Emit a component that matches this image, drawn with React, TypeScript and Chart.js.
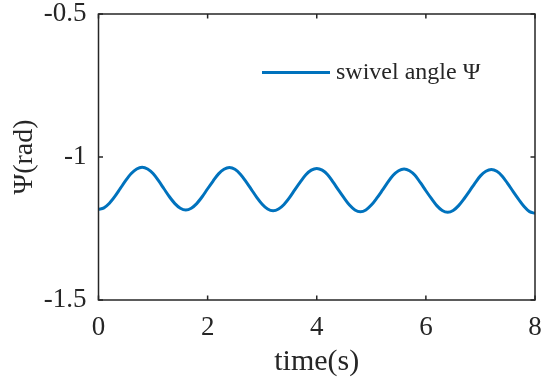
import { useEffect, useRef } from "react";
import { Chart, registerables } from "chart.js";

Chart.register(...registerables);

const times = [
  0, 0.1, 0.2, 0.3, 0.4, 0.5, 0.6, 0.7, 0.8, 0.9,
  1.0, 1.1, 1.2, 1.3, 1.4, 1.5, 1.6, 1.7, 1.8, 1.9,
  2.0, 2.1, 2.2, 2.3, 2.4, 2.5, 2.6, 2.7, 2.8, 2.9,
  3.0, 3.1, 3.2, 3.3, 3.4, 3.5, 3.6, 3.7, 3.8, 3.9,
  4.0, 4.1, 4.2, 4.3, 4.4, 4.5, 4.6, 4.7, 4.8, 4.9,
  5.0, 5.1, 5.2, 5.3, 5.4, 5.5, 5.6, 5.7, 5.8, 5.9,
  6.0, 6.1, 6.2, 6.3, 6.4, 6.5, 6.6, 6.7, 6.8, 6.9,
  7.0, 7.1, 7.2, 7.3, 7.4, 7.5, 7.6, 7.7, 7.8, 7.9,
  8.0,
];

const psi = [
  -1.183, -1.178, -1.162, -1.138, -1.110, -1.082, -1.058, -1.042, -1.036, -1.042,
  -1.058, -1.083, -1.111, -1.139, -1.163, -1.179, -1.185, -1.179, -1.163, -1.139,
  -1.111, -1.084, -1.059, -1.043, -1.037, -1.043, -1.060, -1.085, -1.113, -1.141,
  -1.165, -1.182, -1.188, -1.182, -1.166, -1.142, -1.114, -1.087, -1.062, -1.046,
  -1.040, -1.046, -1.062, -1.088, -1.116, -1.143, -1.168, -1.185, -1.191, -1.185,
  -1.168, -1.144, -1.117, -1.089, -1.064, -1.048, -1.042, -1.048, -1.064, -1.090,
  -1.118, -1.145, -1.170, -1.187, -1.193, -1.187, -1.170, -1.146, -1.119, -1.091,
  -1.066, -1.050, -1.044, -1.050, -1.067, -1.093, -1.121, -1.148, -1.173, -1.191,
  -1.197,
];

const xTicks = [0, 2, 4, 6, 8];
const yTicks = [-1.5, -1, -0.5];
const seriesLabel = "swivel angle \u03A8";
const xTitle = "time(s)";
const yTitle = "\u03A8(rad)";

const FONT = "'Liberation Serif', 'Times New Roman', serif";
const AXIS_COLOR = "#262626";
const LINE_COLOR = "#0072BD";

const boxPlugin = {
  id: "matlabBox",
  afterDraw(chart: any) {
    const { ctx, chartArea, scales } = chart;
    const { left, right, top, bottom } = chartArea;
    const tl = 4.5;
    ctx.save();
    ctx.strokeStyle = AXIS_COLOR;
    ctx.lineWidth = 1.5;
    ctx.strokeRect(left, top, right - left, bottom - top);
    ctx.beginPath();
    for (const v of xTicks) {
      const px = scales.x.getPixelForValue(v);
      ctx.moveTo(px, bottom);
      ctx.lineTo(px, bottom - tl);
      ctx.moveTo(px, top);
      ctx.lineTo(px, top + tl);
    }
    for (const v of yTicks) {
      const py = scales.y.getPixelForValue(v);
      ctx.moveTo(left, py);
      ctx.lineTo(left + tl, py);
      ctx.moveTo(right, py);
      ctx.lineTo(right - tl, py);
    }
    ctx.stroke();

    // legend (no box, MATLAB style)
    const ly = top + 58.5;
    const lx0 = left + 163.5;
    const lx1 = left + 231.5;
    ctx.strokeStyle = LINE_COLOR;
    ctx.lineWidth = 3;
    ctx.beginPath();
    ctx.moveTo(lx0, ly);
    ctx.lineTo(lx1, ly);
    ctx.stroke();
    ctx.fillStyle = AXIS_COLOR;
    ctx.font = `24px ${FONT}`;
    ctx.textBaseline = "middle";
    ctx.textAlign = "left";
    ctx.fillText(chart.data.datasets[0].label, lx1 + 6, ly);
    ctx.restore();
  },
};

export default function App() {
  const ref = useRef<HTMLCanvasElement | null>(null);

  useEffect(() => {
    if (!ref.current) return;
    const chart = new Chart(ref.current, {
      type: "line",
      data: {
        datasets: [
          {
            label: seriesLabel,
            data: times.map((t, i) => ({ x: t, y: psi[i] })),
            borderColor: LINE_COLOR,
            borderWidth: 3,
            pointRadius: 0,
            fill: false,
            cubicInterpolationMode: "monotone",
          },
        ],
      },
      options: {
        animation: false,
        responsive: false,
        maintainAspectRatio: false,
        layout: { padding: 0 },
        plugins: {
          legend: { display: false },
          tooltip: { enabled: false },
        },
        scales: {
          x: {
            type: "linear",
            min: 0,
            max: 8,
            grid: { display: false, drawTicks: false },
            border: { display: false },
            afterBuildTicks: (s: any) => {
              s.ticks = xTicks.map((v) => ({ value: v }));
            },
            afterFit: (s: any) => {
              s.height = 81;
              s.paddingLeft = 0;
              s.paddingRight = 7;
            },
            ticks: {
              color: AXIS_COLOR,
              font: { family: FONT, size: 27 },
              padding: 12,
              maxRotation: 0,
              callback: (v: any) => String(v),
            },
            title: {
              display: true,
              text: xTitle,
              color: AXIS_COLOR,
              font: { family: FONT, size: 30 },
              padding: { top: 0, bottom: 1 },
            },
          },
          y: {
            type: "linear",
            min: -1.5,
            max: -0.5,
            grid: { display: false, drawTicks: false },
            border: { display: false },
            afterBuildTicks: (s: any) => {
              s.ticks = yTicks.map((v) => ({ value: v }));
            },
            afterFit: (s: any) => {
              s.width = 98.5;
              s.paddingTop = 14;
              s.paddingBottom = 0;
            },
            ticks: {
              color: AXIS_COLOR,
              font: { family: FONT, size: 27 },
              padding: 12,
              callback: (v: any) => String(v),
            },
            title: {
              display: true,
              text: yTitle,
              color: AXIS_COLOR,
              font: { family: FONT, size: 28 },
              padding: { top: 8, bottom: 0 },
            },
          },
        },
      },
      plugins: [boxPlugin],
    });
    return () => chart.destroy();
  }, []);

  return (
    <div style={{ position: "fixed", left: 0, top: 0, width: 542, height: 381, background: "#fff" }}>
      <canvas ref={ref} width={542} height={381} style={{ width: 542, height: 381, display: "block" }} />
    </div>
  );
}
